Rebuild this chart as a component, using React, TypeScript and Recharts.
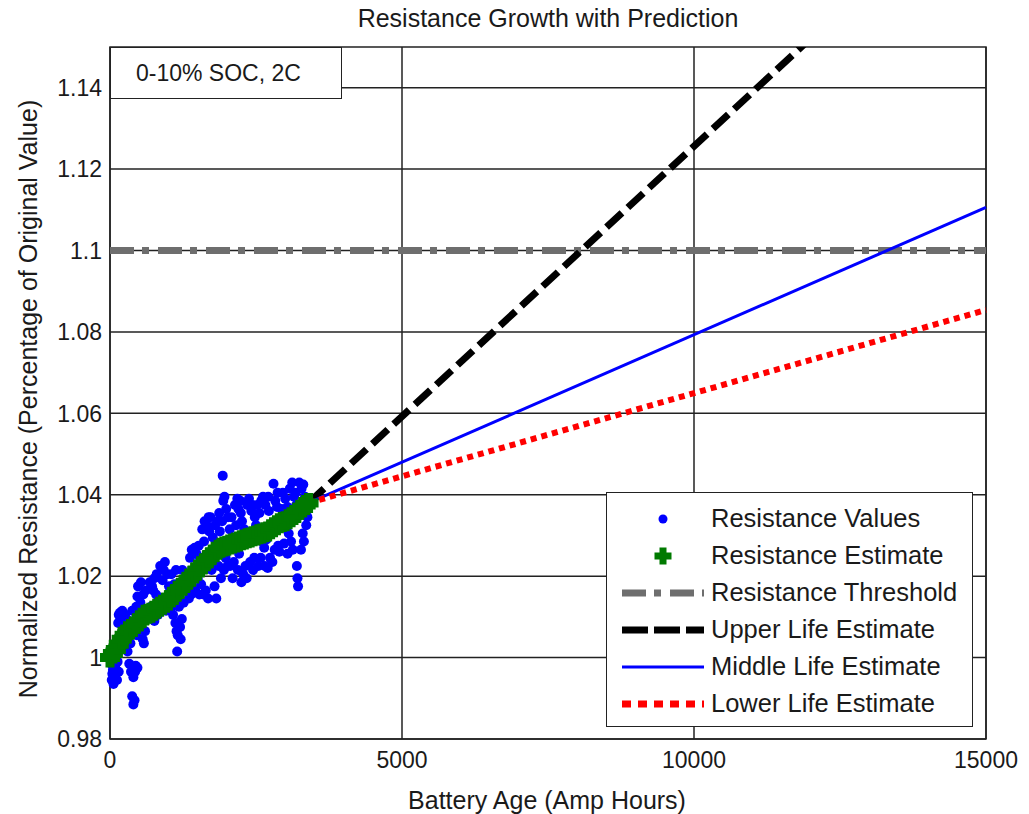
import { CartesianGrid, ComposedChart, Line, ReferenceArea, Scatter, XAxis, YAxis } from "recharts";

const FONT = "'Liberation Sans', Arial, Helvetica, sans-serif";

const ageTicks = [0, 5000, 10000, 15000];
const resistanceTicks = [0.98, 1.0, 1.02, 1.04, 1.06, 1.08, 1.1, 1.12, 1.14];

// measured resistance samples: [amp hours, normalized resistance]
const measuredValues: Array<[number, number]> = [
  [20, 0.9985], [40, 0.996], [60, 0.9935], [80, 0.995], [90, 0.9975], [120, 0.9945], [150, 0.9965],
  [30, 0.9945], [50, 0.997], [110, 0.9965], [70, 0.998], [130, 0.999],
  [60, 1.0005], [100, 1.0035], [140, 1.0085], [170, 1.011], [200, 1.0095], [230, 1.0075], [260, 1.0105],
  [280, 1.0045], [180, 1.0055], [240, 1.003], [300, 1.0015], [150, 1.0105], [210, 1.0115],
  [330, 0.9985], [360, 0.9965], [380, 0.9905], [400, 0.9885], [420, 0.9895], [400, 0.9952], [440, 0.998],
  [470, 0.9975], [330, 1.009], [380, 1.0115], [450, 1.0125], [470, 1.015], [480, 1.0175], [520, 1.0135],
  [540, 1.012], [560, 1.0045], [580, 1.0035], [600, 1.0065], [610, 1.0165], [500, 1.0085], [420, 1.007],
  [430, 0.9965], [350, 1.0035], [460, 1.0055], [530, 1.0185], [570, 1.0155],
  [650, 1.01], [680, 1.0185], [720, 1.0175], [760, 1.0195], [790, 1.0155], [830, 1.014], [860, 1.0225],
  [900, 1.019], [940, 1.0235], [980, 1.0205], [1010, 1.0175], [700, 1.0125], [760, 1.009], [820, 1.0105],
  [880, 1.0115], [940, 1.0135], [1000, 1.0125], [740, 1.0165], [800, 1.0205], [920, 1.0215], [960, 1.0115],
  [1080, 1.0105], [1120, 1.0085], [1150, 1.0015], [1160, 1.0055], [1200, 1.0075], [1230, 1.0095],
  [1180, 1.0125], [1260, 1.0135], [1050, 1.0205], [1100, 1.018], [1240, 1.0215], [1280, 1.019], [1300, 1.0165],
  [1140, 1.0065], [1210, 1.0045], [1060, 1.0125], [1130, 1.0215],
  [1350, 1.0145], [1370, 1.0245], [1400, 1.0265], [1450, 1.027], [1480, 1.0255], [1520, 1.0275],
  [1540, 1.0245], [1560, 1.018], [1600, 1.0155], [1640, 1.0165], [1680, 1.0145], [1580, 1.0315],
  [1620, 1.0335], [1660, 1.0325], [1700, 1.031], [1500, 1.0195], [1420, 1.017], [1460, 1.0165],
  [1530, 1.0155], [1390, 1.0155], [1610, 1.0285], [1690, 1.0345],
  [1740, 1.0215], [1780, 1.0235], [1820, 1.0145], [1860, 1.0225], [1900, 1.0195], [1930, 1.0447],
  [1940, 1.0385], [1960, 1.0395], [1990, 1.0365], [2020, 1.0345], [1760, 1.0295], [1800, 1.0325],
  [1840, 1.0335], [1880, 1.031], [1920, 1.0335], [2060, 1.0225], [2100, 1.0195], [2050, 1.0315], [1980, 1.0245],
  [1720, 1.0345], [1870, 1.0355], [1950, 1.0215], [2010, 1.0225], [2080, 1.0345], [1790, 1.0175],
  [2140, 1.0375], [2180, 1.039], [2200, 1.0365], [2230, 1.0385], [2250, 1.0185], [2280, 1.0205],
  [2320, 1.0225], [2350, 1.0375], [2380, 1.039], [2420, 1.036], [2160, 1.0325], [2260, 1.0335],
  [2300, 1.0315], [2400, 1.0235], [2450, 1.0215], [2480, 1.0345], [2500, 1.0325], [2210, 1.0255],
  [2120, 1.0235], [2190, 1.0215], [2340, 1.0195], [2440, 1.0375], [2470, 1.0245], [2240, 1.0355],
  [2540, 1.0225], [2580, 1.0245], [2620, 1.0395], [2660, 1.0375], [2700, 1.022], [2740, 1.0245],
  [2780, 1.0235], [2800, 1.0427], [2830, 1.0385], [2860, 1.037], [2880, 1.0275], [2900, 1.026],
  [2560, 1.0355], [2600, 1.0285], [2640, 1.027], [2720, 1.036], [2760, 1.0325], [2680, 1.029],
  [2520, 1.0375], [2590, 1.0385], [2650, 1.0225], [2710, 1.0395], [2820, 1.0265], [2870, 1.0405],
  [2940, 1.0365], [2980, 1.028], [3000, 1.039], [3040, 1.037], [3080, 1.0415], [3100, 1.0285],
  [3120, 1.043], [3150, 1.0395], [3180, 1.0405], [3200, 1.0225], [3210, 1.0195], [3220, 1.0175],
  [3240, 1.043], [3260, 1.0375], [3280, 1.0415], [3300, 1.0305], [3320, 1.0285], [3340, 1.0395],
  [3360, 1.0325], [3380, 1.0345], [3040, 1.0255], [3150, 1.034], [3250, 1.035], [2960, 1.0405],
  [3060, 1.0305], [3130, 1.0265], [3190, 1.0375], [3270, 1.0265], [3310, 1.0425], [3350, 1.0355],
];

// filtered resistance estimate
const estimateAges = [
  0, 50, 100, 150, 200, 250, 300, 350, 400, 450, 500, 550, 600, 650, 700, 750, 800, 850, 900, 950,
  1000, 1050, 1100, 1150, 1200, 1250, 1300, 1350, 1400, 1450, 1500, 1550, 1600, 1650, 1700, 1750,
  1800, 1850, 1900, 1950, 2000, 2050, 2100, 2150, 2200, 2250, 2300, 2350, 2400, 2450, 2500, 2550,
  2600, 2650, 2700, 2750, 2800, 2850, 2900, 2950, 3000, 3050, 3100, 3150, 3200, 3250, 3300, 3350, 3400,
];
const estimateValues = [
  1.0, 1.001, 1.002, 1.0033, 1.0045, 1.0055, 1.0065, 1.007, 1.0075, 1.0083, 1.009, 1.0098, 1.0105,
  1.0108, 1.011, 1.0115, 1.012, 1.0125, 1.013, 1.0135, 1.014, 1.0148, 1.0155, 1.0163, 1.017, 1.0178,
  1.0185, 1.0193, 1.02, 1.0208, 1.0215, 1.0223, 1.023, 1.0238, 1.0245, 1.0253, 1.026, 1.0265, 1.027,
  1.0273, 1.0275, 1.0278, 1.028, 1.0283, 1.0285, 1.0288, 1.029, 1.0293, 1.0295, 1.0298, 1.03, 1.0303,
  1.0305, 1.0308, 1.031, 1.0315, 1.032, 1.0325, 1.033, 1.0333, 1.0335, 1.034, 1.0345, 1.035, 1.0355,
  1.0363, 1.037, 1.0375, 1.038,
];

const thresholdValue = 1.1;
const predictionAges = [3400, 15000];
const upperPrediction = [1.038, 1.192];
const middlePrediction = [1.038, 1.1106];
const lowerPrediction = [1.038, 1.0854];

const valuesData = measuredValues.map(([age, r]) => ({ age, r }));
const estimateData = estimateAges.map((age, i) => ({ age, r: estimateValues[i] }));
const thresholdData = [
  { age: ageTicks[0], r: thresholdValue },
  { age: ageTicks[ageTicks.length - 1], r: thresholdValue },
];
const toLine = (vals: number[]) => predictionAges.map((age, i) => ({ age, r: vals[i] }));

function plusPath(cx: number, cy: number, size: number, arm: number) {
  const h = size / 2;
  const a = arm / 2;
  const s = h - a;
  return `M${cx - a},${cy - h}h${arm}v${s}h${s}v${arm}h${-s}v${s}h${-arm}v${-s}h${-s}v${-arm}h${s}z`;
}

const BlueDot = (p: any) => <circle cx={p.cx} cy={p.cy} r={5} fill="#0000ff" />;
const GreenPlus = (p: any) => <path d={plusPath(p.cx, p.cy, 20, 9)} fill="#007a00" />;

const legendRows = [
  { label: "Resistance Values", kind: "dot" },
  { label: "Resistance Estimate", kind: "plus" },
  { label: "Resistance Threshold", kind: "threshold" },
  { label: "Upper Life Estimate", kind: "upper" },
  { label: "Middle Life Estimate", kind: "middle" },
  { label: "Lower Life Estimate", kind: "lower" },
];

function LegendMarker({ kind }: { kind: string }) {
  return (
    <svg width={84} height={20} style={{ display: "block" }}>
      {kind === "dot" && <circle cx={42} cy={10} r={4.5} fill="#0000ff" />}
      {kind === "plus" && <path d={plusPath(42, 10, 17, 7)} fill="#007a00" />}
      {kind === "threshold" && (
        <line x1={1} y1={10} x2={83} y2={10} stroke="#6e6e6e" strokeWidth={7} strokeDasharray="24 8 7 9" />
      )}
      {kind === "upper" && <line x1={1} y1={10} x2={83} y2={10} stroke="#000" strokeWidth={7} strokeDasharray="26 6" />}
      {kind === "middle" && <line x1={1} y1={10} x2={83} y2={10} stroke="#0000ff" strokeWidth={3} />}
      {kind === "lower" && <line x1={1} y1={10} x2={83} y2={10} stroke="#ff0000" strokeWidth={7} strokeDasharray="9 7" />}
    </svg>
  );
}

const textStyle = { position: "absolute" as const, fontFamily: FONT, color: "#1a1a1a", whiteSpace: "nowrap" as const };

export default function App() {
  return (
    <div style={{ position: "relative", width: 1029, height: 814, background: "#fff" }}>
      <style>{"body{margin:0}"}</style>
      <ComposedChart width={1029} height={814} margin={{ top: 47, right: 43, bottom: 15, left: 0 }}>
        <CartesianGrid stroke="#222" strokeWidth={1.5} horizontalValues={resistanceTicks} verticalValues={ageTicks} />
        <XAxis
          dataKey="age"
          type="number"
          domain={[0, 15000]}
          ticks={ageTicks}
          height={60}
          axisLine={false}
          tickLine={false}
          tickSize={0}
          tickMargin={13}
          tick={{ fontSize: 23, fill: "#1a1a1a", fontFamily: FONT }}
        />
        <YAxis
          dataKey="r"
          type="number"
          domain={[0.98, 1.15]}
          allowDataOverflow
          ticks={resistanceTicks}
          width={110}
          axisLine={false}
          tickLine={false}
          tickSize={0}
          tickMargin={8}
          tickFormatter={(v: number) => String(Number(v.toFixed(2)))}
          tick={{ fontSize: 23, fill: "#1a1a1a", fontFamily: FONT }}
        />
        <Scatter name="Resistance Values" data={valuesData} dataKey="r" shape={BlueDot} isAnimationActive={false} />
        <Scatter name="Resistance Estimate" data={estimateData} dataKey="r" shape={GreenPlus} isAnimationActive={false} />
        <Line
          data={thresholdData}
          dataKey="r"
          stroke="#6e6e6e"
          strokeWidth={7}
          strokeDasharray="24 8 7 9"
          dot={false}
          activeDot={false}
          isAnimationActive={false}
        />
        <Line
          data={toLine(upperPrediction)}
          dataKey="r"
          stroke="#000"
          strokeWidth={7}
          strokeDasharray="21 8"
          dot={false}
          activeDot={false}
          isAnimationActive={false}
        />
        <Line
          data={toLine(middlePrediction)}
          dataKey="r"
          stroke="#0000ff"
          strokeWidth={3}
          dot={false}
          activeDot={false}
          isAnimationActive={false}
        />
        <Line
          data={toLine(lowerPrediction)}
          dataKey="r"
          stroke="#ff0000"
          strokeWidth={6}
          strokeDasharray="6 5"
          dot={false}
          activeDot={false}
          isAnimationActive={false}
        />
        <ReferenceArea x1={0} x2={15000} y1={0.98} y2={1.15} fill="none" stroke="#222" strokeWidth={1.5} />
      </ComposedChart>

      <div style={{ ...textStyle, left: 548, top: 18, fontSize: 25, transform: "translate(-50%, -50%)" }}>
        Resistance Growth with Prediction
      </div>
      <div style={{ ...textStyle, left: 547, top: 800, fontSize: 25, transform: "translate(-50%, -50%)" }}>
        Battery Age (Amp Hours)
      </div>
      <div style={{ ...textStyle, left: 28, top: 399, fontSize: 25, transform: "translate(-50%, -50%) rotate(-90deg)" }}>
        Normalized Resistance (Percentage of Original Value)
      </div>

      <div
        style={{
          position: "absolute",
          left: 110,
          top: 47,
          width: 232,
          height: 52,
          boxSizing: "border-box",
          border: "1.5px solid #222",
          background: "#fff",
          fontFamily: FONT,
          fontSize: 23,
          color: "#1a1a1a",
          display: "flex",
          alignItems: "center",
          paddingLeft: 25,
        }}
      >
        0-10% SOC, 2C
      </div>

      <div
        style={{
          position: "absolute",
          left: 606,
          top: 492,
          width: 367,
          height: 235,
          boxSizing: "border-box",
          border: "1.5px solid #222",
          background: "#fff",
          paddingTop: 7,
        }}
      >
        {legendRows.map((row) => (
          <div key={row.label} style={{ display: "flex", alignItems: "center", height: 37 }}>
            <div style={{ width: 14 }} />
            <LegendMarker kind={row.kind} />
            <div style={{ fontFamily: FONT, fontSize: 25.5, color: "#1a1a1a", marginLeft: 6, whiteSpace: "nowrap" }}>
              {row.label}
            </div>
          </div>
        ))}
      </div>
    </div>
  );
}
